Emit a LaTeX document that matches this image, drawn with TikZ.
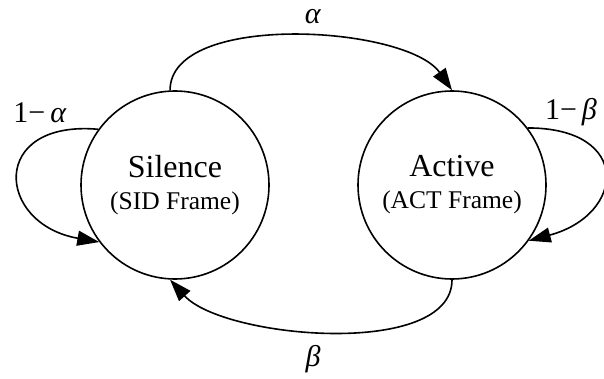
\documentclass[tikz,border=0pt]{standalone}
\usepackage{fontspec}
\setmainfont{Liberation Serif}
\usetikzlibrary{arrows.meta}
\begin{document}
\begin{tikzpicture}[x=1pt,y=1pt,
  statenode/.style={draw,circle,line width=1.6pt,minimum size=188pt,inner sep=0pt,align=center,font=\fontsize{32}{32}\selectfont},
  link/.style={line width=1.6pt,-{Triangle[length=22pt,width=15pt]}},
  problabel/.style={inner sep=0pt,font=\fontsize{30}{34}\selectfont}]
  \useasboundingbox (0,0) rectangle (604,378);

  % the two states
  \node[statenode] (sil) at (175,193) {Silence\\{\fontsize{25.5}{28}\selectfont(SID Frame)}};
  \node[statenode] (act) at (452,193) {Active\\{\fontsize{25.5}{28}\selectfont(ACT Frame)}};

  % transitions between the states
  \draw[link] (sil.93) to[out=90,in=125,looseness=0.72] (act.90);
  \draw[link] (act.-90) to[out=-90,in=-48,looseness=0.72] (sil.-93);

  % self loops
  \draw[link] (sil.144) to[out=175,in=170,out distance=110pt,in distance=105pt] (sil.217);
  \draw[link] (act.37) to[out=0,in=15,out distance=105pt,in distance=100pt] (act.-36);

  % transition probabilities
  \node[problabel] (la) at (313,361) {\textit{α}};
  \node[problabel] (lb) at (313,19) {\textit{β}};
  \node[problabel] (lna) at (40,265) {1−\,\textit{α}};
  \node[problabel] (lnb) at (571,266) {1−\,\textit{β}};
\end{tikzpicture}
\end{document}
